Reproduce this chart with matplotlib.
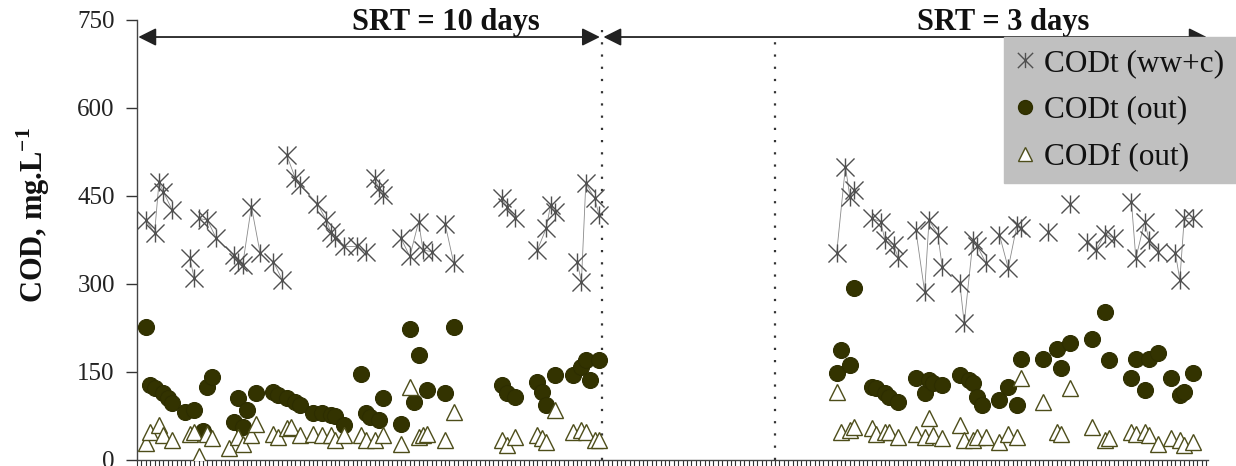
import numpy as np
import matplotlib
matplotlib.use("Agg")
import matplotlib.pyplot as plt
from matplotlib.path import Path
from matplotlib.lines import Line2D

plt.rcParams['font.family'] = ['Liberation Serif', 'DejaVu Serif']
plt.rcParams['mathtext.fontset'] = 'custom'
plt.rcParams['mathtext.rm'] = 'Liberation Serif'
plt.rcParams['mathtext.bf'] = 'Liberation Serif:bold'

N = None  # break in the line (no consecutive sample)

# ---------------- data (day number, COD mg/L) ----------------
codt_in_day = [2, 4, 5, 6, 8, N, 12, 13, N, 14, 16, 18, 22, 23, 24, 26, 28, N, 31, 33, N,
               34, 36, 37, 41, 43, 44, 45, 47, 50, 52, N, 54, 55, 56, N, 60, 62, 64, 65, 67, N,
               70, 72, N, 83, 84, 86, N, 91, 93, 94, 95, N, 100, 101, 102, 104, 105, N,
               159, 161, 162, 163, N, 167, 169, 170, 172, 173, N, 177, 179, 180, 182, 183, N,
               187, 188, 190, 191, 193, N, 196, 198, 200, 201, N, 207, N, 212, N,
               216, 218, 220, 222, N, 226, 227, 229, 230, 232, N, 236, 237, 238, 240]
codt_in_val = [409, 387, 474, 457, 426, N, 344, 310, N, 412, 409, 378, 349, 338, 332, 432, 352, N, 338, 307, N,
               520, 480, 469, 437, 409, 389, 378, 364, 364, 355, N, 480, 463, 452, N, 378, 347, 406, 358, 355, N,
               403, 335, N, 446, 432, 412, N, 358, 395, 435, 423, N, 338, 304, 472, 446, 418, N,
               352, 500, 449, 460, N, 412, 406, 375, 366, 344, N, 392, 287, 409, 384, 329, N,
               301, 233, 375, 364, 335, N, 384, 327, 401, 395, N, 389, N, 437, N,
               372, 358, 386, 378, N, 440, 344, 406, 375, 355, N, 352, 307, 412, 412]

codt_out_day = [2, 3, 4, 6, 7, 8, N, 11, 13, 15, 16, 17, N, 22, 23, 24, 25, 27, N,
                31, 32, 34, 36, 37, N, 40, 42, 44, 45, 47, N, 51, 52, 53, 55, 56, N,
                60, 62, 63, 64, 66, N, 70, 72, N, 83, 84, 86, N, 91, 92, 93, 95, N,
                99, 101, 102, 103, 105, N,
                159, 160, 162, 163, N, 167, 168, 170, 171, 173, N, 177, 179, 180, 181, 183, N,
                187, 189, 190, 191, 192, N, 196, 198, 200, 201, N, 206, 209, 210, 212, N,
                217, 220, 221, N, 226, 227, 229, 230, 232, N, 235, 237, 238, 240]
codt_out_val = [227, 128, 122, 114, 105, 97, N, 82, 85, 50, 125, 142, N, 65, 105, 57, 85, 114, N,
                116, 111, 105, 99, 94, N, 80, 80, 77, 75, 60, N, 147, 80, 74, 68, 105, N,
                62, 223, 99, 179, 119, N, 115, 227, N, 128, 114, 108, N, 133, 116, 94, 145, N,
                145, 159, 170, 136, 170, N,
                148, 187, 162, 293, N, 125, 122, 114, 108, 99, N, 139, 114, 136, 131, 128, N,
                145, 136, 131, 108, 94, N, 102, 125, 94, 173, N, 173, 190, 156, 199, N,
                207, 253, 170, N, 139, 173, 119, 173, 182, N, 139, 111, 116, 148]

codf_out_day = [2, 3, 5, 6, 8, N, 12, 13, 14, 16, 17, N, 21, 23, 24, 26, 27, N,
                31, 32, 34, 35, 37, N, 40, 42, 44, 45, 47, N, 51, 52, 54, 56, N,
                60, 62, 64, 65, 66, N, 70, 72, N, 83, 84, 86, N, 91, 92, 93, 95, N,
                99, 101, 102, 104, 105, N,
                159, 160, 162, 163, N, 167, 168, 170, 171, 173, N, 177, 179, 180, 181, 183, N,
                187, 188, 190, 191, 193, N, 196, 198, 200, 201, N, 206, 209, 210, 212, N,
                217, 220, 221, N, 226, 227, 229, 230, 232, N, 235, 237, 238, 240]
codf_out_val = [29, 48, 60, 43, 34, N, 45, 48, 6, 45, 37, N, 20, 40, 28, 43, 62, N,
                45, 40, 54, 57, 43, N, 45, 43, 43, 34, 43, N, 43, 34, 34, 43, N,
                28, 125, 40, 43, 45, N, 34, 82, N, 34, 26, 40, N, 43, 37, 31, 85, N,
                48, 51, 48, 34, 34, N,
                116, 48, 51, 57, N, 54, 45, 48, 48, 40, N, 45, 40, 71, 43, 37, N,
                60, 34, 34, 40, 40, N, 31, 45, 40, 139, N, 99, 48, 45, 122, N,
                57, 34, 37, N, 48, 45, 48, 43, 28, N, 37, 34, 26, 31]

series_labels = ['CODt (ww+c)', 'CODt (out)', 'CODf (out)']
srt_labels = ['SRT = 10 days', 'SRT = 3 days']
srt_change_day = 105.7
event_day = 145.0
n_days = 243.4
yticks = [0, 150, 300, 450, 600, 750]


def arr(v):
    return np.array([np.nan if a is None else a for a in v], dtype=float)


# ---------------- figure ----------------
fig = plt.figure(figsize=(12.36, 4.66), dpi=100)
ax = fig.add_axes([137 / 1236, 6 / 466, 1071 / 1236, 440 / 466])

star = Path([(-1, -1), (1, 1), (-1, 1), (1, -1), (0, -1), (0, 1)],
            [Path.MOVETO, Path.LINETO, Path.MOVETO, Path.LINETO, Path.MOVETO, Path.LINETO])

x1, y1 = arr(codt_in_day), arr(codt_in_val)
ax.plot(x1, y1, color='#8a8a8a', lw=0.6, zorder=2)
ax.plot(x1, y1, ls='none', marker=star, ms=13, mec='#505050', mfc='none', mew=1.0, zorder=3)
ax.plot(arr(codt_out_day), arr(codt_out_val), ls='none',
        marker='o', ms=11.5, mec='#2e2e00', mfc='#333300', mew=0.8, zorder=4)
ax.plot(arr(codf_out_day), arr(codf_out_val), ls='none',
        marker='^', ms=12, mec='#4d4d1a', mfc='white', mew=1.0, zorder=5)

ax.set_xlim(0, n_days)
ax.set_ylim(0, 750)
ax.set_yticks(yticks)
ax.set_yticklabels([str(t) for t in yticks])
ax.set_xticks(np.arange(0, 244))
ax.set_xticklabels([])
ax.tick_params(axis='y', direction='out', length=8, width=1, pad=8,
               labelsize=18, colors='#333333', labelcolor='#222222')
ax.tick_params(axis='x', direction='out', length=5, width=0.8, colors='#333333')
for s in ['top', 'right']:
    ax.spines[s].set_visible(False)
for s in ['left', 'bottom']:
    ax.spines[s].set_color('#444444')
    ax.spines[s].set_linewidth(1.0)

# dotted vertical lines
ax.plot([srt_change_day, srt_change_day], [0, 750], ls=(0, (1, 4.5)), color='#333333', lw=1.6,
        clip_on=False, zorder=2)
ax.plot([event_day, event_day], [0, 721], ls=(0, (1, 4.5)), color='#333333', lw=1.6,
        clip_on=False, zorder=2)

# SRT arrows and labels
arrow_y = 721
ax.annotate('', xy=(0.3, arrow_y), xytext=(srt_change_day - 0.5, arrow_y),
            arrowprops=dict(arrowstyle='<|-|>', color='#222222', lw=1.3,
                            mutation_scale=27, shrinkA=0, shrinkB=0),
            annotation_clip=False)
ax.annotate('', xy=(srt_change_day + 0.3, arrow_y), xytext=(n_days - 0.3, arrow_y),
            arrowprops=dict(arrowstyle='<|-|>', color='#222222', lw=1.3,
                            mutation_scale=27, shrinkA=0, shrinkB=0),
            annotation_clip=False)
ax.text(70.2, 733, srt_labels[0], ha='center', va='baseline', fontsize=22,
        fontweight='bold', color='#111111', clip_on=False)
ax.text(196.8, 733, srt_labels[1], ha='center', va='baseline', fontsize=22,
        fontweight='bold', color='#111111', clip_on=False)

# y label
ax.set_ylabel(r'COD, mg.L$^{\mathbf{-1}}$', fontsize=22, fontweight='bold', color='#111111')
ax.yaxis.set_label_coords(-0.079, 0.557)

# legend
handles = [
    Line2D([], [], ls='none', marker=star, ms=11, mec='#505050', mfc='none', mew=1.0),
    Line2D([], [], ls='none', marker='o', ms=10, mec='#2e2e00', mfc='#333300'),
    Line2D([], [], ls='none', marker='^', ms=10, mec='#4d4d1a', mfc='white', mew=1.0),
]
leg = fig.legend(handles, series_labels, loc='upper right',
                 bbox_to_anchor=(1.0, 1 - 37 / 466), bbox_transform=fig.transFigure,
                 borderaxespad=0, frameon=True, fancybox=False, fontsize=22.5,
                 handlelength=0.6, handletextpad=0.3, labelspacing=0.57,
                 borderpad=0.38)
leg.get_frame().set_facecolor('#c0c0c0')
leg.get_frame().set_edgecolor('#c0c0c0')
leg.get_frame().set_alpha(1)
for t in leg.get_texts():
    t.set_color('#111111')

fig.savefig('out.png', dpi=100)
